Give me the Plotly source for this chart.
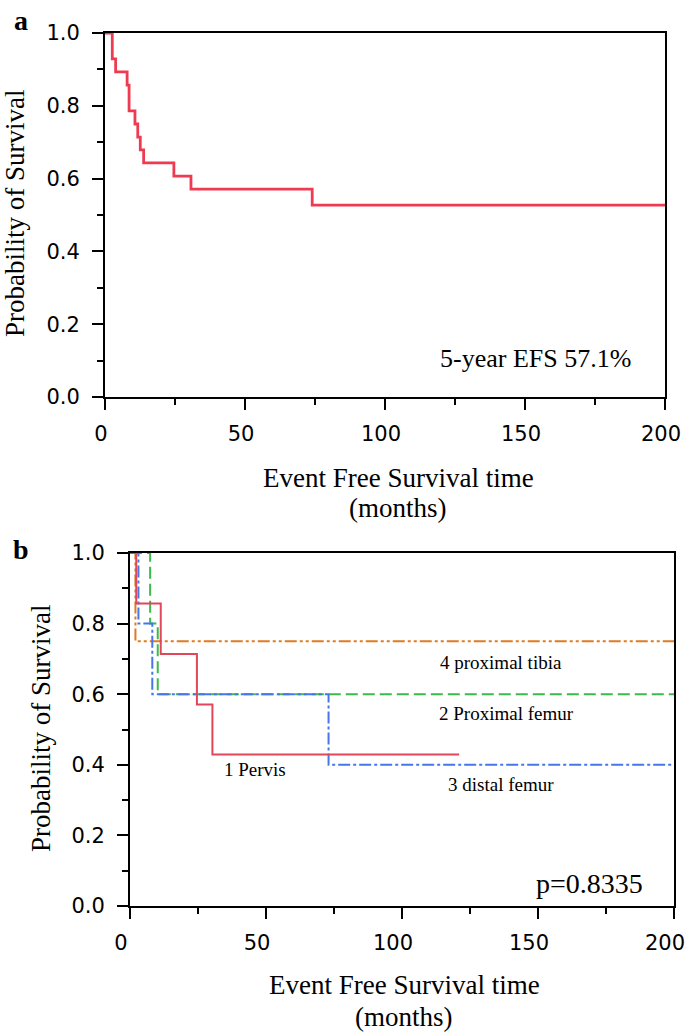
import plotly.graph_objects as go

# ---- Data ----
# Panel a: overall event free survival (Kaplan-Meier step points)
a_time = [0, 2.6, 3.8, 7.9, 8.6, 10.7, 11.7, 12.6, 13.8, 24.6, 30.7, 74.0, 200]
a_surv = [1.0, 0.929, 0.893, 0.857, 0.786, 0.750, 0.714, 0.679, 0.643, 0.607, 0.571, 0.527, 0.527]

# Panel b: by tumour site
pelvis_time = [0, 2.3, 11.3, 24.6, 30.3, 121]
pelvis_surv = [1.0, 0.857, 0.714, 0.571, 0.429, 0.429]
prox_femur_time = [0, 7.4, 10.2, 200]
prox_femur_surv = [1.0, 0.8, 0.6, 0.6]
distal_femur_time = [0, 3.1, 8.2, 73.0, 200]
distal_femur_surv = [1.0, 0.8, 0.6, 0.4, 0.4]
prox_tibia_time = [0, 2.0, 200]
prox_tibia_surv = [1.0, 0.75, 0.75]

x_ticks = [0, 50, 100, 150, 200]
y_ticks = [0.0, 0.2, 0.4, 0.6, 0.8, 1.0]
y_ticklabels = ["0.0", "0.2", "0.4", "0.6", "0.8", "1.0"]

W, H = 685, 1032

fig = go.Figure()

fig.add_trace(go.Scatter(x=a_time, y=a_surv, mode="lines", line_shape="hv",
                         line=dict(color="#EE3B52", width=2.8),
                         xaxis="x", yaxis="y", showlegend=False))

fig.add_trace(go.Scatter(x=prox_tibia_time, y=prox_tibia_surv, mode="lines", line_shape="hv",
                         line=dict(color="#E07B22", width=2, dash="12px,3px,3px,3px,3px,3px"),
                         xaxis="x2", yaxis="y2", showlegend=False))
fig.add_trace(go.Scatter(x=prox_femur_time, y=prox_femur_surv, mode="lines", line_shape="hv",
                         line=dict(color="#3DBB4A", width=2, dash="12px,5px"),
                         xaxis="x2", yaxis="y2", showlegend=False))
fig.add_trace(go.Scatter(x=distal_femur_time, y=distal_femur_surv, mode="lines", line_shape="hv",
                         line=dict(color="#4577E8", width=2, dash="12px,3px,3px,3px"),
                         xaxis="x2", yaxis="y2", showlegend=False))
fig.add_trace(go.Scatter(x=pelvis_time, y=pelvis_surv, mode="lines", line_shape="hv",
                         line=dict(color="#E0475A", width=2),
                         xaxis="x2", yaxis="y2", showlegend=False))

tickfont = dict(family="DejaVu Sans", size=21, color="black")

def xax(domain, anchor, shift):
    return dict(domain=domain, anchor=anchor, range=[0, 200], tickvals=x_ticks,
                ticks="outside", ticklen=11, tickwidth=2, tickcolor="black",
                showline=True, linewidth=2, linecolor="black", mirror=True,
                showgrid=False, zeroline=False, tickfont=tickfont,
                ticklabelstandoff=6, ticklabelshift=shift, ticklabeloverflow="allow",
                automargin=False,
                minor=dict(dtick=25, ticks="outside", ticklen=6, tickwidth=2, tickcolor="black"))

def yax(domain, anchor):
    return dict(domain=domain, anchor=anchor, range=[0, 1.0], tickvals=y_ticks,
                ticktext=y_ticklabels,
                ticks="outside", ticklen=11, tickwidth=2, tickcolor="black",
                showline=True, linewidth=2, linecolor="black", mirror=True,
                showgrid=False, zeroline=False, tickfont=tickfont,
                ticklabelstandoff=8, ticklabeloverflow="allow", automargin=False,
                minor=dict(dtick=0.1, ticks="outside", ticklen=6, tickwidth=2, tickcolor="black"))

fig.update_layout(
    width=W, height=H, margin=dict(l=0, r=0, t=0, b=0, autoexpand=False),
    paper_bgcolor="white", plot_bgcolor="white",
    xaxis=xax([105 / W, 665 / W], "y", -4),
    yaxis=yax([1 - 397 / H, 1 - 33 / H], "x"),
    xaxis2=xax([130 / W, 674 / W], "y2", -9),
    yaxis2=yax([1 - 906 / H, 1 - 553 / H], "x2"),
)

serif = "Liberation Serif, Times New Roman, serif"

def pa(text, px, py, size, angle=0, bold=False, xanchor="center"):
    t = f"<b>{text}</b>" if bold else text
    fig.add_annotation(text=t, x=px / W, y=1 - py / H, xref="paper", yref="paper",
                       xanchor=xanchor, yanchor="middle", showarrow=False, textangle=angle,
                       font=dict(family=serif, size=size, color="black"))

# panel labels
pa("a", 21, 20, 28, bold=True)
pa("b", 21, 549, 28, bold=True)

# axis titles
pa("Probability of Survival", 15, 214, 27, angle=-90)
pa("Probability of Survival", 41, 729, 27, angle=-90)
pa("Event Free Survival time", 398, 478, 27)
pa("(months)", 398, 508, 27)
pa("Event Free Survival time", 404, 985, 27)
pa("(months)", 404, 1017, 27)

# in-plot texts
fig.add_annotation(text="5-year EFS 57.1%", x=188.6, y=0.105, xref="x", yref="y",
                   xanchor="right", yanchor="middle", showarrow=False,
                   font=dict(family=serif, size=26, color="black"))
fig.add_annotation(text="p=0.8335", x=189.3, y=0.065, xref="x2", yref="y2",
                   xanchor="right", yanchor="middle", showarrow=False,
                   font=dict(family=serif, size=28, color="black"))

labels_b = [("4 proximal tibia", 136.4, 0.689), ("2 Proximal femur", 138.6, 0.545),
            ("1 Pervis", 46.1, 0.387), ("3 distal femur", 136.4, 0.345)]
for txt, lx, ly in labels_b:
    fig.add_annotation(text=txt, x=lx, y=ly, xref="x2", yref="y2",
                       xanchor="center", yanchor="middle", showarrow=False,
                       font=dict(family=serif, size=19, color="black"))

fig.write_html("out.html", config={"displayModeBar": False},
               post_script="document.body.style.margin='0';document.body.style.overflow='hidden';")
